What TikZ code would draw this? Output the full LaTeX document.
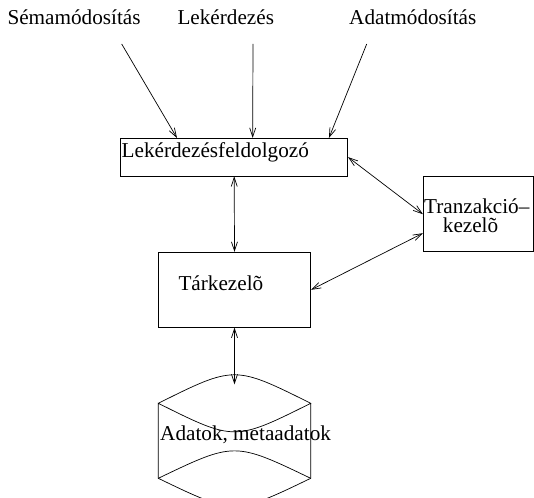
\documentclass[tikz,border=0pt]{standalone}
\usepackage{fontspec}
\setmainfont{Liberation Serif}
\usetikzlibrary{arrows.meta}
\begin{document}
\begin{tikzpicture}[x=1pt,y=-1pt,
  lbl/.style={inner sep=0pt,anchor=base west,font=\fontsize{21.2}{25}\selectfont},
  box/.style={draw,line width=0.7pt,inner sep=0pt},
  conn/.style={line width=0.7pt,-{Straight Barb[length=9pt,width=6pt,line width=0.7pt]}},
  bconn/.style={line width=0.7pt,{Straight Barb[length=9pt,width=6pt,line width=0.7pt]}-{Straight Barb[length=9pt,width=6pt,line width=0.7pt]}}]
\useasboundingbox (0,0) rectangle (534,497);
% labels
\node[lbl] (tSema) at (7.3,25) {Sémamódosítás};
\node[lbl] (tLek) at (177.3,25) {Lekérdezés};
\node[lbl] (tAdat) at (349,25) {Adatmódosítás};
\coordinate (s0) at (121.7,44);
\coordinate (l0) at (253,44);
\coordinate (a0) at (366.7,44);
% boxes
\node[box,minimum width=227pt,minimum height=37.7pt] (b1) at (234.2,157.15) {};
\node[lbl] (t1) at (121.5,157) {Lekérdezésfeldolgozó};
\node[box,minimum width=152.4pt,minimum height=75pt] (b2) at (234.5,289.8) {};
\node[lbl] (t2) at (178.3,290) {Tárkezelõ};
\node[box,minimum width=109.7pt,minimum height=75pt] (b3) at (478.15,214.2) {};
\node[lbl] (t3a) at (424,213.3) {Tranzakció–};
\node[lbl] (t3b) at (442.7,232.7) {kezelõ};
% cylinder
\coordinate (cyl) at (234.5,384.3);
\draw[line width=0.7pt] (158.3,403.3) .. controls (234.5,365.3) .. (310.7,403.3)
  .. controls (234.5,441.3) .. (158.3,403.3) -- (158.3,478.3)
  .. controls (234.5,515.1) .. (310.7,478.3) -- (310.7,403.3);
\draw[line width=0.7pt] (158.3,478.3) .. controls (234.5,441.7) .. (310.7,478.3);
\node[lbl] (tc) at (160,440) {Adatok, metaadatok};
% connectors
\draw[conn] (s0) -- ([xshift=56.6pt]b1.north west);
\draw[conn] (l0) -- ([xshift=132.3pt]b1.north west);
\draw[conn] (a0) -- ([xshift=208.6pt]b1.north west);
\draw[bconn] (b1.east) -- (b3.west);
\draw[bconn] (b1.south) -- (b2.north);
\draw[bconn] ([yshift=-19pt]b3.west) -- (b2.east);
\draw[bconn] (b2.south) -- (cyl);
\end{tikzpicture}
\end{document}
